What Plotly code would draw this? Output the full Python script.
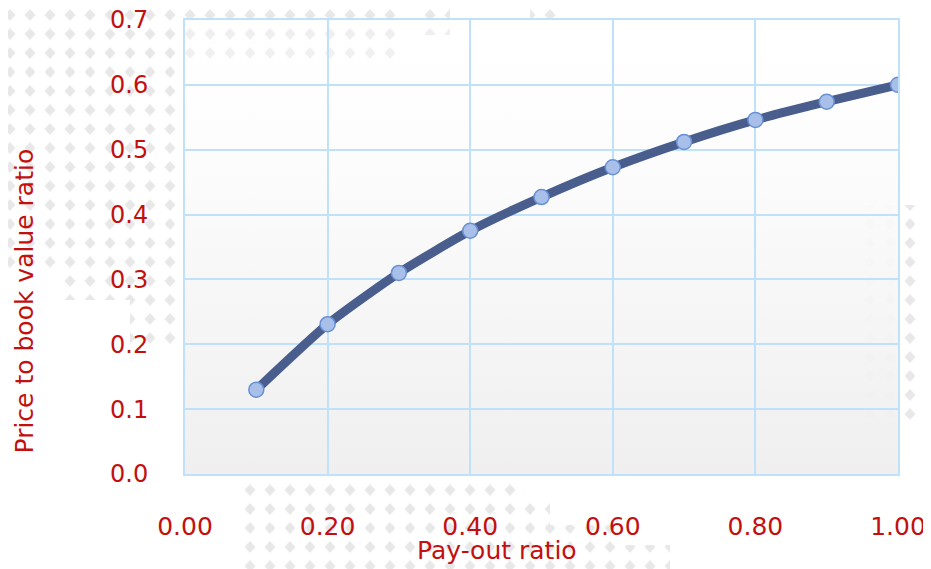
import base64
import plotly.graph_objects as go

payout_ratio = [0.1, 0.2, 0.3, 0.4, 0.5, 0.6, 0.7, 0.8, 0.9, 1.0]
price_to_book = [0.13, 0.231, 0.310, 0.375, 0.427, 0.473, 0.512, 0.546, 0.574, 0.600]
x_ticks = [0.0, 0.2, 0.4, 0.6, 0.8, 1.0]
y_ticks = [0.0, 0.1, 0.2, 0.3, 0.4, 0.5, 0.6, 0.7]

RED = "#c3100f"
GRID = "#bfe2fa"
FONT = "DejaVu Sans"

# page offset (body margin) and figure size
OFF = 8
W, H = 931 - OFF, 569 - OFF
L, R, T, B = 185 - OFF, 33, 20 - OFF, 95
PW, PH = W - L - R, H - T - B


def uri(svg):
    return "data:image/svg+xml;base64," + base64.b64encode(svg.encode()).decode()


# decorative diamond-dot background (screen coordinates)
pattern_rects = [
    (0, 0, 185, 275), (55, 275, 185, 300), (130, 300, 180, 345),
    (185, 0, 395, 65), (425, 0, 450, 35), (530, 0, 560, 20),
    (245, 480, 525, 500), (245, 500, 550, 525), (245, 525, 620, 545), (245, 545, 670, 569),
    (855, 205, 931, 420),
]
rects = "".join(
    f'<rect x="{a}" y="{b}" width="{c - a}" height="{d - b}" fill="url(#p)"/>'
    for a, b, c, d in pattern_rects
)
pattern_svg = (
    f'<svg xmlns="http://www.w3.org/2000/svg" width="{W}" height="{H}" viewBox="{OFF} {OFF} {W} {H}" '
    'preserveAspectRatio="none"><defs>'
    '<pattern id="p" patternUnits="userSpaceOnUse" x="0" y="5.5" width="20" height="19">'
    '<polygon points="10,3.5 15.5,9.5 10,15.5 4.5,9.5" fill="#e8e8e8"/></pattern></defs>'
    f'{rects}</svg>'
)

grad_svg = (
    '<svg xmlns="http://www.w3.org/2000/svg" width="100" height="100" preserveAspectRatio="none">'
    '<defs><linearGradient id="g" x1="0" y1="0" x2="0" y2="1">'
    '<stop offset="0" stop-color="#ffffff" stop-opacity="0.25"/>'
    '<stop offset="0.35" stop-color="#fbfbfb" stop-opacity="0.9"/>'
    '<stop offset="1" stop-color="#eeeeee" stop-opacity="0.93"/>'
    '</linearGradient></defs><rect width="100" height="100" fill="url(#g)"/></svg>'
)

fig = go.Figure()
fig.add_trace(go.Scatter(
    x=payout_ratio, y=price_to_book, mode="lines+markers",
    line=dict(color="#4a5e8e", width=9, shape="spline", smoothing=0.6),
    marker=dict(size=15, color="#a8bfe9", line=dict(color="#6a90d4", width=1.5)),
    showlegend=False, hoverinfo="x+y",
))

fig.update_layout(
    width=W, height=H,
    margin=dict(l=L, r=R, t=T, b=B, autoexpand=False),
    paper_bgcolor="white", plot_bgcolor="rgba(0,0,0,0)",
    font=dict(family=FONT, color=RED, size=25),
    images=[
        dict(source=uri(pattern_svg), xref="paper", yref="paper",
             x=-L / PW, y=1 + T / PH, sizex=W / PW, sizey=H / PH,
             sizing="stretch", layer="below", xanchor="left", yanchor="top"),
        dict(source=uri(grad_svg), xref="paper", yref="paper", x=0, y=1,
             sizex=1, sizey=1, sizing="stretch", layer="below"),
    ],
    xaxis=dict(range=[0, 1], tickvals=x_ticks, tickformat=".2f", automargin=False,
               ticklabeloverflow="allow",
               showgrid=True, gridcolor=GRID, gridwidth=1.5,
               showline=True, linecolor=GRID, linewidth=2, mirror=True,
               ticks="", ticklabelstandoff=29, zeroline=False,
               tickfont=dict(size=25, color=RED, family=FONT)),
    yaxis=dict(range=[0, 0.7], tickvals=y_ticks, tickformat=".1f", automargin=False,
               ticklabeloverflow="allow",
               showgrid=True, gridcolor=GRID, gridwidth=1.5,
               showline=True, linecolor=GRID, linewidth=2, mirror=True,
               ticks="", ticklabelstandoff=30, zeroline=False,
               tickfont=dict(size=24, color=RED, family=FONT)),
    annotations=[
        dict(text="Pay-out ratio", xref="paper", yref="paper",
             x=(497 - 185) / PW, y=(474 - 550) / PH,
             xanchor="center", yanchor="middle", showarrow=False,
             font=dict(size=25, color=RED, family=FONT)),
        dict(text="Price to book value ratio", xref="paper", yref="paper",
             x=(24 - 185) / PW, y=(474 - 301.5) / PH,
             xanchor="center", yanchor="middle", showarrow=False, textangle=-90,
             font=dict(size=25, color=RED, family=FONT)),
    ],
)

fig.write_html("out.html")
